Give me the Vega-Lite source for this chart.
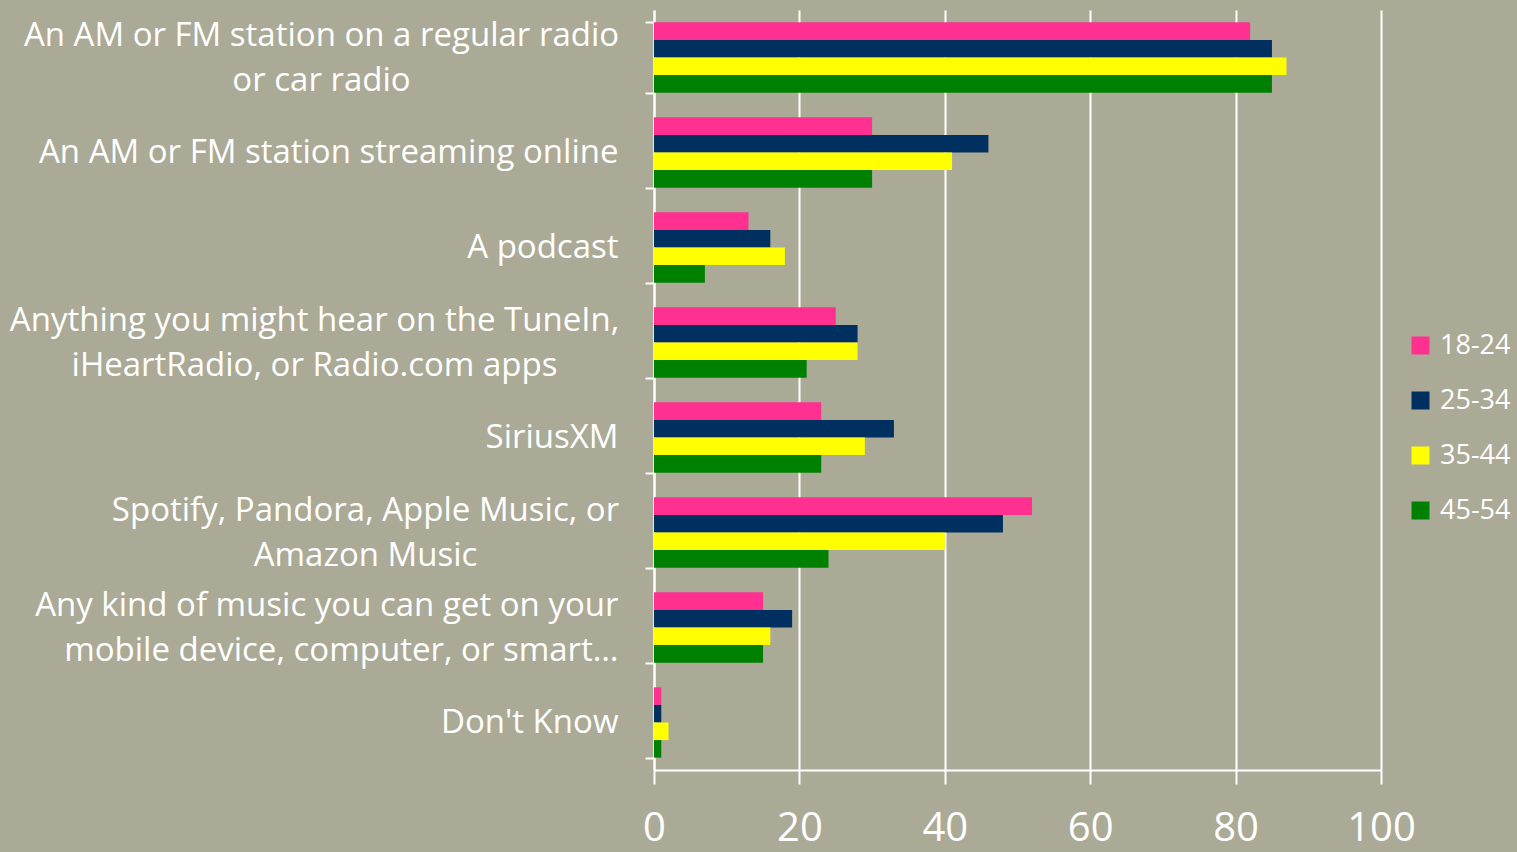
{
  "$schema": "https://vega.github.io/schema/vega-lite/v6.json",
  "autosize": "none",
  "width": 727,
  "height": 760,
  "padding": {"left": 654, "top": 10, "right": 136, "bottom": 82},
  "background": "#abaa97",
  "config": {
    "view": {"stroke": null},
    "font": "Open Sans"
  },
  "data": {
    "values": [
      {"category": "An AM or FM station on a regular radio|or car radio", "age": "18-24", "value": 82},
      {"category": "An AM or FM station on a regular radio|or car radio", "age": "25-34", "value": 85},
      {"category": "An AM or FM station on a regular radio|or car radio", "age": "35-44", "value": 87},
      {"category": "An AM or FM station on a regular radio|or car radio", "age": "45-54", "value": 85},
      {"category": "An AM or FM station streaming online", "age": "18-24", "value": 30},
      {"category": "An AM or FM station streaming online", "age": "25-34", "value": 46},
      {"category": "An AM or FM station streaming online", "age": "35-44", "value": 41},
      {"category": "An AM or FM station streaming online", "age": "45-54", "value": 30},
      {"category": "A podcast", "age": "18-24", "value": 13},
      {"category": "A podcast", "age": "25-34", "value": 16},
      {"category": "A podcast", "age": "35-44", "value": 18},
      {"category": "A podcast", "age": "45-54", "value": 7},
      {"category": "Anything you might hear on the TuneIn,|iHeartRadio, or Radio.com apps", "age": "18-24", "value": 25},
      {"category": "Anything you might hear on the TuneIn,|iHeartRadio, or Radio.com apps", "age": "25-34", "value": 28},
      {"category": "Anything you might hear on the TuneIn,|iHeartRadio, or Radio.com apps", "age": "35-44", "value": 28},
      {"category": "Anything you might hear on the TuneIn,|iHeartRadio, or Radio.com apps", "age": "45-54", "value": 21},
      {"category": "SiriusXM", "age": "18-24", "value": 23},
      {"category": "SiriusXM", "age": "25-34", "value": 33},
      {"category": "SiriusXM", "age": "35-44", "value": 29},
      {"category": "SiriusXM", "age": "45-54", "value": 23},
      {"category": "Spotify, Pandora, Apple Music, or|Amazon Music", "age": "18-24", "value": 52},
      {"category": "Spotify, Pandora, Apple Music, or|Amazon Music", "age": "25-34", "value": 48},
      {"category": "Spotify, Pandora, Apple Music, or|Amazon Music", "age": "35-44", "value": 40},
      {"category": "Spotify, Pandora, Apple Music, or|Amazon Music", "age": "45-54", "value": 24},
      {"category": "Any kind of music you can get on your|mobile device, computer, or smart…", "age": "18-24", "value": 15},
      {"category": "Any kind of music you can get on your|mobile device, computer, or smart…", "age": "25-34", "value": 19},
      {"category": "Any kind of music you can get on your|mobile device, computer, or smart…", "age": "35-44", "value": 16},
      {"category": "Any kind of music you can get on your|mobile device, computer, or smart…", "age": "45-54", "value": 15},
      {"category": "Don't Know", "age": "18-24", "value": 1},
      {"category": "Don't Know", "age": "25-34", "value": 1},
      {"category": "Don't Know", "age": "35-44", "value": 2},
      {"category": "Don't Know", "age": "45-54", "value": 1}
    ]
  },
  "mark": {"type": "bar"},
  "encoding": {
    "y": {
      "field": "category",
      "type": "nominal",
      "sort": null,
      "title": null,
      "scale": {"paddingInner": 0.26, "paddingOuter": 0.13},
      "axis": {
        "tickBand": "extent",
        "domainColor": "white",
        "domainWidth": 2,
        "tickColor": "white",
        "tickWidth": 2,
        "tickSize": 9,
        "labelColor": "white",
        "labelFontSize": 33,
        "labelLimit": 0,
        "labelLineHeight": 45,
        "labelOffset": {"condition": {"test": "isValid(datum.value) && indexof(datum.value, '|') >= 0", "value": -22}, "value": 0},
        "labelAlign": {"condition": {"test": "isValid(datum.value) && (indexof(datum.value, 'regular radio') >= 0 || indexof(datum.value, 'TuneIn') >= 0 || indexof(datum.value, 'Spotify') >= 0)", "value": "center"}, "value": "right"},
        "labelPadding": {
          "condition": [
            {"test": "isValid(datum.value) && indexof(datum.value, 'regular radio') >= 0", "value": 324},
            {"test": "isValid(datum.value) && indexof(datum.value, 'TuneIn') >= 0", "value": 331},
            {"test": "isValid(datum.value) && indexof(datum.value, 'Spotify') >= 0", "value": 280}
          ],
          "value": 27
        },
        "labelExpr": "isValid(datum.value) ? split(datum.value, '|') : ''",
        "grid": false
      }
    },
    "x": {
      "field": "value",
      "type": "quantitative",
      "title": null,
      "scale": {"domain": [0, 100], "nice": false},
      "axis": {
        "values": [0, 20, 40, 60, 80, 100],
        "domainColor": "white",
        "domainWidth": 2,
        "tickColor": "white",
        "tickWidth": 2,
        "tickSize": 14,
        "labelColor": "white",
        "labelFontSize": 40,
        "labelPadding": 24,
        "labelFlush": false,
        "grid": true,
        "gridColor": "white",
        "gridWidth": 2,
        "gridOpacity": 1
      }
    },
    "yOffset": {"field": "age", "type": "nominal", "sort": ["18-24", "25-34", "35-44", "45-54"]},
    "color": {
      "field": "age",
      "type": "nominal",
      "sort": ["18-24", "25-34", "35-44", "45-54"],
      "scale": {
        "domain": ["18-24", "25-34", "35-44", "45-54"],
        "range": ["#ff3090", "#00305f", "#ffff00", "#008000"]
      },
      "legend": {
        "title": null,
        "orient": "none",
        "legendX": 753,
        "legendY": 322,
        "symbolType": "square",
        "symbolSize": 324,
        "symbolStrokeWidth": 0,
        "symbolOpacity": 1,
        "labelColor": "white",
        "labelFontSize": 27,
        "labelOffset": 6,
        "rowPadding": 27
      }
    }
  }
}
